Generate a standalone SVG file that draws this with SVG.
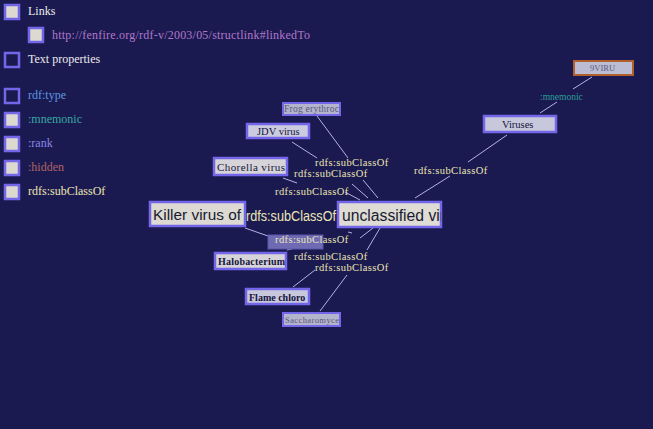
<svg xmlns="http://www.w3.org/2000/svg" width="653" height="429" viewBox="0 0 653 429">
<defs>
<style>
.bg{fill:#1b1a50}
.cb{fill:#dcdad0;stroke:#7466e8;stroke-width:2.5}
.cbe{fill:none;stroke:#7466e8;stroke-width:2.5}
.lt{font-family:"Liberation Serif",serif;font-size:12px}
.n{fill:#d6d4d8;stroke:#7466e8;stroke-width:2.5}
.nf{fill:#b4b4cc;stroke:#7466e8;stroke-width:2}
.nt{font-family:"Liberation Serif",serif;fill:#14143c}
.ns{font-family:"Liberation Sans",sans-serif;fill:#1a1a30}
.el{font-family:"Liberation Serif",serif;font-size:10.5px;fill:#ece6b4;letter-spacing:0.4px}
.c line{stroke:#b4b2e6;stroke-width:1}
</style>
<clipPath id="clipU"><rect x="338" y="201" width="103" height="27"/></clipPath>
</defs>
<rect class="bg" x="0" y="0" width="653" height="429"/>

<g id="legend">
<rect class="cb" x="5" y="5" width="14" height="14"/>
<text class="lt" x="28" y="15" fill="#ececec">Links</text>
<rect class="cb" x="29" y="28" width="14" height="14"/>
<text class="lt" x="52" y="39" fill="#b078cc" textLength="258" lengthAdjust="spacing">http://fenfire.org/rdf-v/2003/05/structlink#linkedTo</text>
<rect class="cbe" x="5" y="53" width="14" height="14"/>
<text class="lt" x="28" y="63" fill="#ececec">Text properties</text>
<rect class="cbe" x="5" y="89" width="14" height="14"/>
<text class="lt" x="28" y="99" fill="#5c96e0">rdf:type</text>
<rect class="cb" x="5" y="113" width="14" height="14"/>
<text class="lt" x="28" y="123" fill="#38a8a0">:mnemonic</text>
<rect class="cb" x="5" y="137" width="14" height="14"/>
<text class="lt" x="28" y="147" fill="#8a86e8">:rank</text>
<rect class="cb" x="5" y="161" width="14" height="14"/>
<text class="lt" x="28" y="171" fill="#b06464">:hidden</text>
<rect class="cb" x="5" y="185" width="14" height="14"/>
<text class="lt" x="28" y="195" fill="#ece6b4">rdfs:subClassOf</text>
</g>

<g id="connectors" class="c">
<line x1="317" y1="116" x2="348" y2="158"/>
<line x1="363" y1="180" x2="378" y2="198"/>
<line x1="292" y1="142" x2="317" y2="158"/>
<line x1="352" y1="184" x2="368" y2="198"/>
<line x1="283" y1="178" x2="297" y2="183"/>
<line x1="345" y1="192" x2="360" y2="200"/>
<line x1="245" y1="228" x2="268" y2="236"/>
<line x1="287" y1="250" x2="307" y2="245"/>
<line x1="348" y1="232" x2="352" y2="233"/>
<line x1="293" y1="287" x2="315" y2="270"/>
<line x1="360" y1="238" x2="373" y2="228"/>
<line x1="320" y1="311" x2="347" y2="275"/>
<line x1="367" y1="250" x2="380" y2="228"/>
<line x1="507" y1="135" x2="468" y2="162"/>
<line x1="450" y1="176" x2="415" y2="198"/>
<line x1="592" y1="77" x2="573" y2="89"/>
<line x1="557" y1="102" x2="540" y2="113"/>
</g>

<g id="node-small">
<rect x="268" y="235" width="55" height="14" fill="#6e6ab4" stroke="#5a56a8" stroke-width="1"/>
</g>

<g id="node-frog">
<rect class="nf" x="283" y="103" width="57" height="12"/>
<text class="nt" x="284" y="112" font-size="9.5px" style="fill:#5a5a80" textLength="55" lengthAdjust="spacing">Frog erythroc</text>
</g>
<g id="node-jdv">
<rect class="n" x="247" y="124" width="62" height="14" style="fill:#cccce0"/>
<text class="nt" x="257" y="135" font-size="10.5px">JDV virus</text>
</g>
<g id="node-chorella">
<rect class="n" x="214" y="158" width="73" height="17"/>
<text class="nt" x="217" y="171" font-size="11px" textLength="68" lengthAdjust="spacing">Chorella virus</text>
</g>
<g id="node-killer">
<rect class="n" x="150" y="202" width="95" height="24" style="fill:#dcdad2"/>
<text class="ns" x="153" y="220" font-size="15px" textLength="88" lengthAdjust="spacingAndGlyphs">Killer virus of</text>
</g>
<g id="node-unclassified">
<rect class="n" x="338" y="202" width="103" height="25" style="fill:#dedcd4"/>
<text class="ns" x="342" y="221" font-size="16px" textLength="103" lengthAdjust="spacingAndGlyphs" clip-path="url(#clipU)">unclassified vir</text>
</g>
<g id="node-halobacterium">
<rect class="n" x="215" y="253" width="71" height="16"/>
<text class="nt" x="218" y="265" font-size="10px" font-weight="bold" textLength="67" lengthAdjust="spacing">Halobacterium</text>
</g>
<g id="node-flame">
<rect class="n" x="246" y="289" width="63" height="15" style="fill:#c8c8dc"/>
<text class="nt" x="249" y="301" font-size="10px" font-weight="bold">Flame chloro</text>
</g>
<g id="node-saccharomyce">
<rect class="nf" x="283" y="313" width="57" height="13"/>
<text class="nt" x="285" y="323" font-size="8.5px" style="fill:#5a5a80" textLength="54" lengthAdjust="spacing">Saccharomyce</text>
</g>
<g id="node-viruses">
<rect class="n" x="484" y="116" width="72" height="16" style="fill:#c8c8dc"/>
<text class="nt" x="502" y="128" font-size="10.5px">Viruses</text>
</g>
<g id="node-9viru">
<rect x="574" y="61" width="59" height="14" fill="#bcbcd4" stroke="#b0602c" stroke-width="2"/>
<text class="nt" x="590" y="71" font-size="8.5px" style="fill:#5a5a80">9VIRU</text>
</g>

<g id="edge-labels">
<text class="ns" x="246" y="221" font-size="14px" style="fill:#ece6b4" textLength="90" lengthAdjust="spacingAndGlyphs">rdfs:subClassOf</text>
<text class="el" x="315" y="166">rdfs:subClassOf</text>
<text class="el" x="294" y="177">rdfs:subClassOf</text>
<text class="el" x="275" y="195">rdfs:subClassOf</text>
<text class="el" x="275" y="243">rdfs:subClassOf</text>
<text class="el" x="294" y="260">rdfs:subClassOf</text>
<text class="el" x="315" y="271">rdfs:subClassOf</text>
<text class="el" x="414" y="174">rdfs:subClassOf</text>
<text x="540" y="100" font-family="Liberation Serif,serif" font-size="9.5px" fill="#2e9c98">:mnemonic</text>
</g>
</svg>
